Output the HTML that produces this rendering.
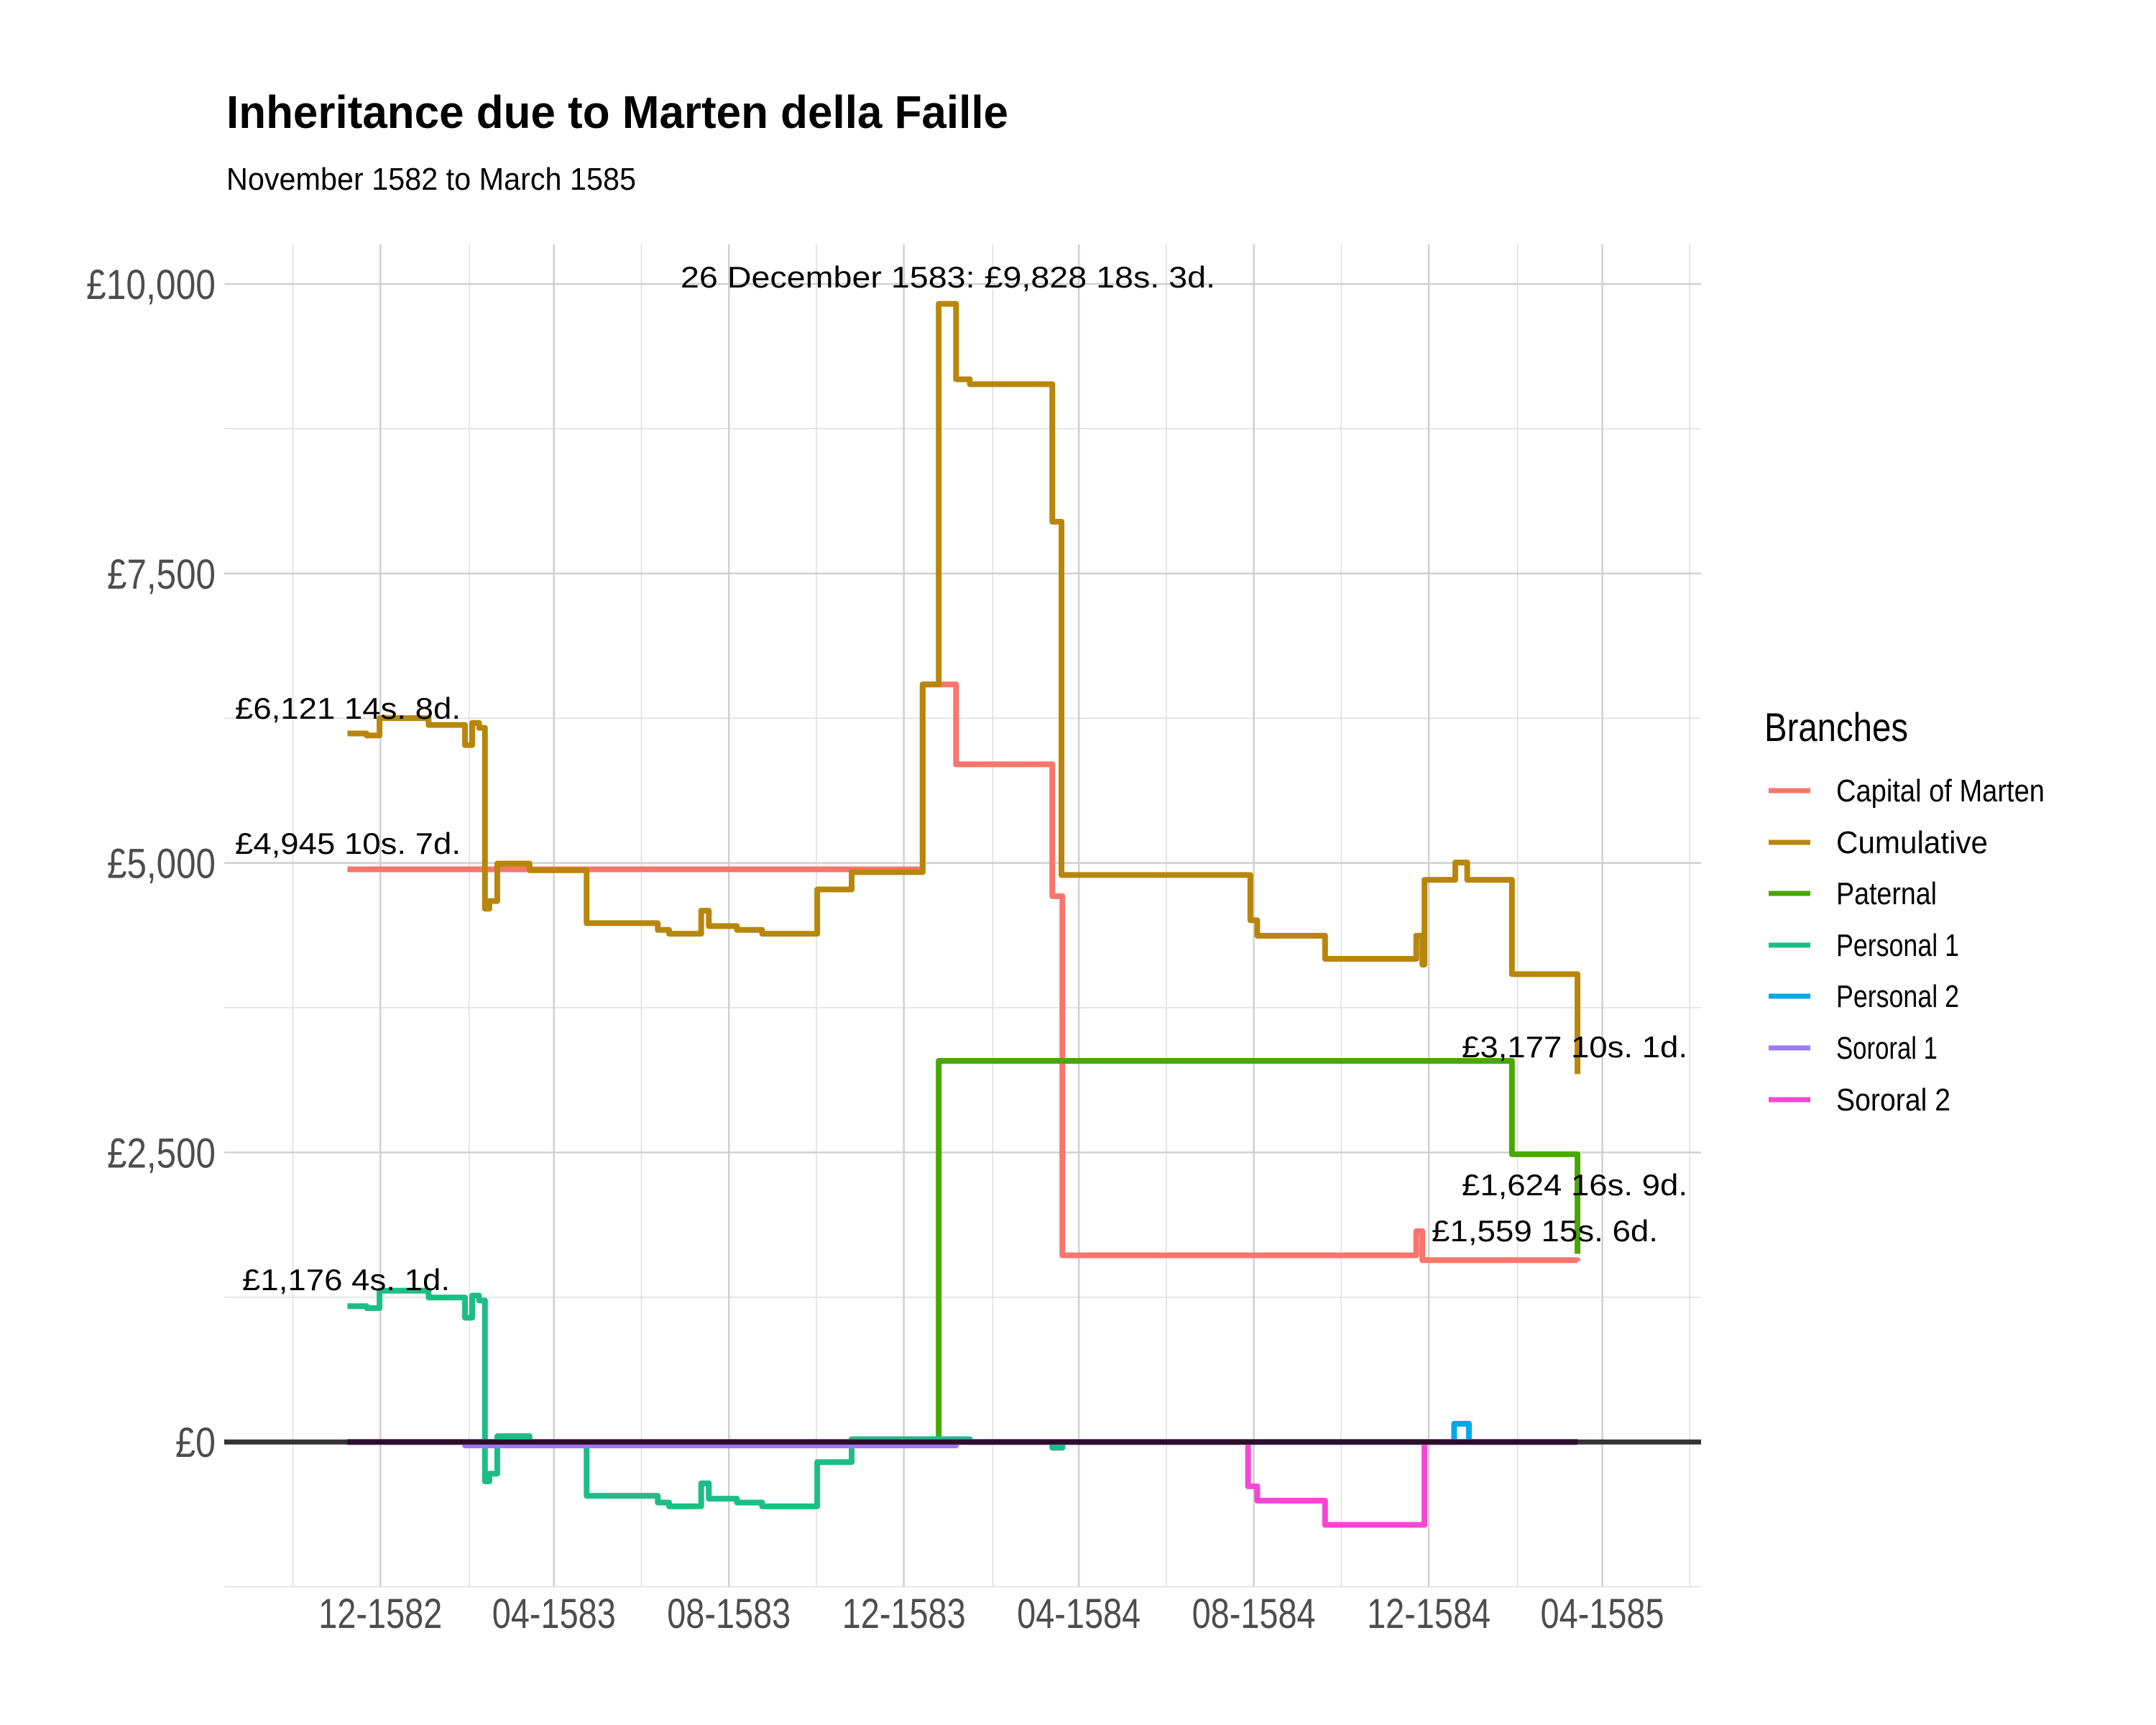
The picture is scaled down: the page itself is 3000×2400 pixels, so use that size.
<!DOCTYPE html>
<html><head><meta charset="utf-8"><style>
html,body{margin:0;padding:0;background:#fff;}
svg{display:block;}
.n{font-family:"Liberation Sans Narrow","Liberation Sans",sans-serif;}
.a{font-family:"Liberation Sans",sans-serif;fill:#000;}
</style></head><body>
<svg id="chart" width="3000" height="2400" viewBox="0 0 3000 2400" xmlns="http://www.w3.org/2000/svg">
<rect width="3000" height="2400" fill="#fff"/>
<text class="n" x="315" y="178" font-size="64" font-weight="bold" fill="#000" textLength="1088" lengthAdjust="spacingAndGlyphs">Inheritance due to Marten della Faille</text>
<text class="n" x="315" y="264" font-size="44" fill="#000" textLength="570" lengthAdjust="spacingAndGlyphs">November 1582 to March 1585</text>
<g id="grid"></g><g id="series"></g><g id="ann"></g><g id="axes"></g>
<g id="legend"></g>
</svg>
<script>
const yTicks=[0,2500,5000,7500,10000];
const yTickLabels=["£0","£2,500","£5,000","£7,500","£10,000"];
const yMinor=[-1250,1250,3750,6250,8750];
const xTickMonths=[[1582,12],[1583,4],[1583,8],[1583,12],[1584,4],[1584,8],[1584,12],[1585,4]];
const xTickLabels=["12-1582","04-1583","08-1583","12-1583","04-1584","08-1584","12-1584","04-1585"];
const xMinorMonths=[[1582,10],[1583,2],[1583,6],[1583,10],[1584,2],[1584,6],[1584,10],[1585,2],[1585,6]];
const seriesNames=["Capital of Marten","Cumulative","Paternal","Personal 1","Personal 2","Sororal 1","Sororal 2"];
// days since 1 Dec 1582
const capitalDays=[-23,378.1,401.4,468.5,475.5,722.3,726.5,834.7];
const capitalVals=[4945,6542,5852,4713,1612,1820,1570,1560];
const cumulativeDays=[-23,-9.6,-0.6,33.6,59,64,68.8,72.9,76,81.5,104,143.8,193.4,201.3,223.7,229,248.6,266.2,304.6,328.6,378.1,389.3,401.4,411,468.5,474.9,606.6,611.4,658.7,722.3,726.5,728,749.5,757.8,789,834.7];
const cumulativeVals=[6118,6101,6251,6192,6018,6209,6167,4605,4671,4995,4937,4480,4422,4389,4588,4455,4422,4389,4771,4921,6542,9828,9177,9135,7947,4896,4505,4372,4172,4372,4122,4854,5004,4854,4040,3177];
const paternalDays=[-23,389.3,789,834.7];
const paternalVals=[0,3291,2485,1625];
const personal1Days=[-23,-9.6,-0.6,33.6,59,64,68.8,72.9,76,81.5,104,143.8,193.4,201.3,223.7,229,248.6,266.2,304.6,328.6,411,468.5,475.5,834.7];
const personal1Vals=[1173,1156,1306,1247,1073,1264,1222,-340,-274,50,-8,-465,-523,-556,-357,-490,-523,-556,-174,24,0,-50,0,0];
const personal2Days=[-23,748.7,759,834.7];
const personal2Vals=[0,157,0,0];
const sororal1Days=[-23,59,401.4,834.7];
const sororal1Vals=[0,-30,0,0];
const sororal2Days=[-23,605,611.4,658.7,728,834.7];
const sororal2Vals=[0,-383,-507,-716,0,0];
const annTexts=["26 December 1583: £9,828 18s. 3d.","£6,121 14s. 8d.","£4,945 10s. 7d.","£1,176 4s. 1d.","£3,177 10s. 1d.","£1,624 16s. 9d.","£1,559 15s. 6d."];

const NS="http://www.w3.org/2000/svg";
const X0=529.3,PXD=1.9956,Y0=2006.2,PXV=0.16111;
const PL=312,PR=2367,PT=340,PB=2207;
const base=Date.UTC(1582,11,1);
function xDay(d){return X0+d*PXD;}
function xMonth(ym){return xDay((Date.UTC(ym[0],ym[1]-1,1)-base)/864e5);}
function yV(v){return Y0-v*PXV;}
function mk(tag,attrs,parent){const e=document.createElementNS(NS,tag);for(const k in attrs)e.setAttribute(k,attrs[k]);parent.appendChild(e);return e;}
const grid=document.getElementById('grid'),ser=document.getElementById('series'),ann=document.getElementById('ann'),axes=document.getElementById('axes'),leg=document.getElementById('legend');

yMinor.forEach(v=>{const l=mk('line',{x1:PL,x2:PR,y1:yV(v),y2:yV(v),stroke:'#dedede','stroke-width':1.5},grid);

});
xMinorMonths.forEach(m=>{const x=xMonth(m);const l=mk('line',{x1:x,x2:x,y1:PT,y2:PB,stroke:'#dedede','stroke-width':1.5},grid);

});
const yLabW=[56,151,151,151,180];
yTicks.forEach((v,i)=>{const y=yV(v);const l=mk('line',{x1:PL,x2:PR,y1:y,y2:y,stroke:'#d0d0d0','stroke-width':2.5},grid);


const t=mk('text',{x:300,y:y+21,'text-anchor':'end','font-size':58,fill:'#4d4d4d',class:'n',textLength:yLabW[i],lengthAdjust:'spacingAndGlyphs'},axes);t.textContent=yTickLabels[i];

});
xTickMonths.forEach((m,i)=>{const x=xMonth(m);const l=mk('line',{x1:x,x2:x,y1:PT,y2:PB,stroke:'#d0d0d0','stroke-width':2.5},grid);


const t=mk('text',{x:x,y:2265,'text-anchor':'middle','font-size':58,fill:'#4d4d4d',class:'n',textLength:172,lengthAdjust:'spacingAndGlyphs'},axes);t.textContent=xTickLabels[i];

});

const seriesData=[[capitalDays,capitalVals,'#F8766D'],[cumulativeDays,cumulativeVals,'#B8860B'],[paternalDays,paternalVals,'#49A800'],[personal1Days,personal1Vals,'#1DBE86'],[personal2Days,personal2Vals,'#00A9E6'],[sororal1Days,sororal1Vals,'#9A7BFF'],[sororal2Days,sororal2Vals,'#F448D4']];
seriesData.forEach((s,k)=>{const [ds,vs,c]=s;let p='M'+xDay(ds[0])+','+yV(vs[0]);
for(let i=1;i<ds.length;i++){p+=' H'+xDay(ds[i])+' V'+yV(vs[i]);}
const e=mk('path',{d:p,fill:'none',stroke:c,'stroke-width':8,'stroke-linejoin':'round'},ser);

});
const z=mk('line',{x1:PL,x2:PR,y1:yV(0),y2:yV(0),stroke:'#333333','stroke-width':7},ser);


const z2=mk('line',{x1:xDay(-23),x2:xDay(834.7),y1:yV(0),y2:yV(0),stroke:'#2a0f2a','stroke-width':7},ser);



const annPos=[[947,400,744],[327,1000,314],[327,1188,314],[337,1795,289],[2034,1471,314],[2034,1663,314],[1992,1727,315]];
annTexts.forEach((s,i)=>{const p=annPos[i];const t=mk('text',{x:p[0],y:p[1],'font-size':42,class:'a',textLength:p[2],lengthAdjust:'spacingAndGlyphs'},ann);t.textContent=s;

});

const lt=mk('text',{x:2455,y:1031,'font-size':56,fill:'#000',class:'n',textLength:200,lengthAdjust:'spacingAndGlyphs'},leg);lt.textContent='Branches';


const ly=[1100,1172,1243,1315,1386,1458,1530];
const lw=[290,211,140,171,171,141,159];
seriesNames.forEach((n,i)=>{const g=mk('g',{},leg);


mk('line',{x1:2461,x2:2519,y1:ly[i],y2:ly[i],stroke:seriesData[i][2],'stroke-width':7},g);
const t=mk('text',{x:2555,y:ly[i]+15,'font-size':44,fill:'#000',class:'n',textLength:lw[i],lengthAdjust:'spacingAndGlyphs'},g);t.textContent=n;});
</script>
</body></html>
